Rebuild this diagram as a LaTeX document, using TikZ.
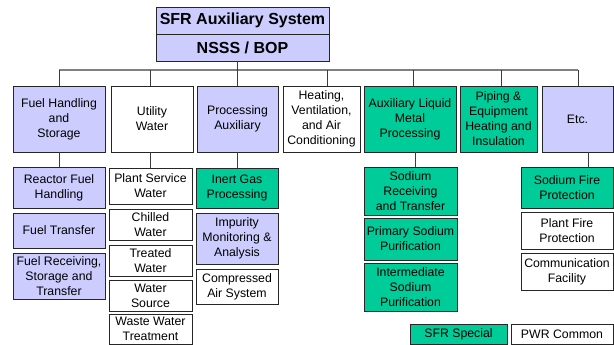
\documentclass[tikz,border=0pt]{standalone}
\usepackage{fontspec}
\setmainfont{Liberation Sans}
\definecolor{lav}{HTML}{CCCCFF}
\definecolor{sfrgreen}{HTML}{00CC99}
\definecolor{bordc}{HTML}{262626}
\definecolor{busc}{HTML}{808080}
\tikzset{
  box/.style={draw=bordc, line width=0.9pt, rectangle, inner sep=0pt, align=center,
    font=\fontsize{12.3}{15}\selectfont},
  lavbox/.style={box, fill=lav},
  grbox/.style={box, fill=sfrgreen},
  whbox/.style={box, fill=white},
  titlebox/.style={box, fill=lav, font=\fontsize{16}{18}\selectfont\bfseries},
  link/.style={draw=bordc!90, line width=1pt},
  bus/.style={draw=busc, line width=1.4pt}
}
\begin{document}
\begin{tikzpicture}[x=1pt,y=-1pt]
\useasboundingbox (0,0) rectangle (614,345);
% top
\node[titlebox, minimum width=173, minimum height=27] (sfr) at (242.5,20.5) {SFR Auxiliary System};
\node[titlebox, minimum width=173, minimum height=27] (nsss) at (242.5,47.5) {NSSS / BOP};
% level 1
\node[lavbox, minimum width=92, minimum height=66] (fh) at (59,119) {Fuel Handling\\and\\Storage};
\node[whbox, minimum width=82, minimum height=66] (uw) at (152,119) {Utility\\Water};
\node[lavbox, minimum width=81, minimum height=66] (pa) at (237.5,119) {Processing\\Auxiliary};
\node[whbox, minimum width=77, minimum height=66] (hv) at (321.5,119) {Heating,\\Ventilation,\\and Air\\Conditioning};
\node[grbox, minimum width=92, minimum height=66] (alm) at (410,119) {Auxiliary Liquid\\Metal\\Processing};
\node[grbox, minimum width=77, minimum height=66] (pe) at (498.5,119) {Piping \&\\Equipment\\Heating and\\Insulation};
\node[lavbox, minimum width=71, minimum height=66] (etc) at (577.5,119) {Etc.};
% column 1
\node[lavbox, minimum width=92, minimum height=41] (rfh) at (59,187.5) {Reactor Fuel\\Handling};
\node[lavbox, minimum width=92, minimum height=35] (ft) at (59,230.5) {Fuel Transfer};
\node[lavbox, minimum width=92, minimum height=46] (frs) at (59,276) {Fuel Receiving,\\Storage and\\Transfer};
% column 2
\node[whbox, minimum width=83, minimum height=36] (psw) at (150.5,186) {Plant Service\\Water};
\node[whbox, minimum width=83, minimum height=31] (cw) at (150.5,224.5) {Chilled\\Water};
\node[whbox, minimum width=83, minimum height=31] (tw) at (150.5,260.5) {Treated\\Water};
\node[whbox, minimum width=83, minimum height=31] (ws) at (150.5,295.5) {Water\\Source};
\node[whbox, minimum width=83, minimum height=30] (wwt) at (150.5,329) {Waste Water\\Treatment};
% column 3
\node[grbox, minimum width=82, minimum height=40] (igp) at (237,188) {Inert Gas\\Processing};
\node[lavbox, minimum width=82, minimum height=51] (ima) at (237,238.5) {Impurity\\Monitoring \&\\Analysis};
\node[whbox, minimum width=82, minimum height=35] (cas) at (237,286.5) {Compressed\\Air System};
% column 5
\node[grbox, minimum width=93, minimum height=48] (srt) at (410.5,191) {Sodium\\Receiving\\and Transfer};
\node[grbox, minimum width=93, minimum height=42] (psp) at (410.5,239) {Primary Sodium\\Purification};
\node[grbox, minimum width=93, minimum height=48] (isp) at (410.5,287) {Intermediate\\Sodium\\Purification};
% column 7
\node[grbox, minimum width=92, minimum height=41] (sfp) at (567,187.5) {Sodium Fire\\Protection};
\node[whbox, minimum width=92, minimum height=37] (pfp) at (567,230.5) {Plant Fire\\Protection};
\node[whbox, minimum width=92, minimum height=37] (cf) at (567,271.5) {Communication\\Facility};
% legend
\node[grbox, minimum width=97, minimum height=20] (lg1) at (458.5,334) {SFR Special};
\node[whbox, minimum width=102, minimum height=20] (lg2) at (562,334) {PWR Common};
% bus
\coordinate (busL) at (59,70);
\coordinate (busR) at (578,70);
\draw[bus] (busL) -- (busR);
\draw[link] (nsss.south -| 237,0) -- (237,70);
\draw[link] (59,70) -- (fh.north -| 59,0);
\draw[link] (150,70) -- (uw.north -| 150,0);
\draw[link] (237,70) -- (pa.north -| 237,0);
\draw[link] (327.5,70) -- (hv.north -| 327.5,0);
\draw[link] (413,70) -- (alm.north -| 413,0);
\draw[link] (501,70) -- (pe.north -| 501,0);
\draw[link] (578,70) -- (etc.north -| 578,0);
% level1 to level2
\draw[link] (fh.south -| 59,0) -- (rfh.north -| 59,0);
\draw[link] (uw.south -| 150,0) -- (psw.north -| 150,0);
\draw[link] (pa.south -| 237,0) -- (igp.north -| 237,0);
\draw[link] (alm.south -| 415,0) -- (srt.north -| 415,0);
\draw[link] (etc.south -| 588,0) -- (sfp.north -| 588,0);
\end{tikzpicture}
\end{document}
